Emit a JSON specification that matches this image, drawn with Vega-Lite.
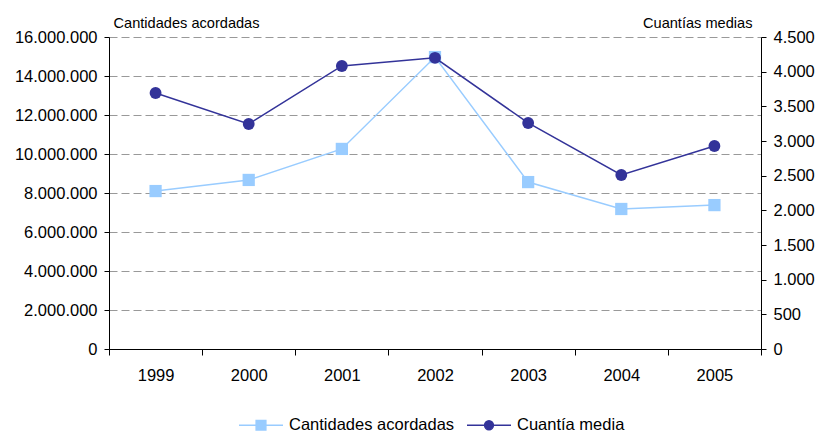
{
  "$schema": "https://vega.github.io/schema/vega-lite/v6.json",
  "autosize": {"type": "none"},
  "padding": {"left": 109, "top": 37, "right": 59, "bottom": 84},
  "width": 652,
  "height": 312,
  "background": "white",
  "config": {
    "view": {"stroke": null},
    "font": "Liberation Sans",
    "locale": {"number": {"decimal": ",", "thousands": ".", "grouping": [3], "currency": ["", " €"]}},
    "axis": {
      "labelFont": "Liberation Sans",
      "labelFontSize": 16.5,
      "labelColor": "#000000",
      "domainColor": "#000000",
      "tickColor": "#000000",
      "titleFont": "Liberation Sans",
      "titleFontWeight": "normal",
      "titleColor": "#000000"
    }
  },
  "data": {
    "values": [
      {"year": "1999", "cantidad": 8100000, "cuantia": 3692},
      {"year": "2000", "cantidad": 8670000, "cuantia": 3245},
      {"year": "2001", "cantidad": 10260000, "cuantia": 4082},
      {"year": "2002", "cantidad": 14970000, "cuantia": 4200},
      {"year": "2003", "cantidad": 8560000, "cuantia": 3260},
      {"year": "2004", "cantidad": 7180000, "cuantia": 2510},
      {"year": "2005", "cantidad": 7380000, "cuantia": 2928}
    ]
  },
  "encoding": {
    "x": {
      "field": "year",
      "type": "ordinal",
      "scale": {"type": "band", "paddingInner": 0, "paddingOuter": 0},
      "axis": {
        "title": null,
        "labelAngle": 0,
        "tickBand": "extent",
        "tickSize": 6,
        "labelPadding": 12,
        "domainWidth": 1,
        "grid": false
      }
    }
  },
  "layer": [
    {
      "encoding": {
        "y": {
          "field": "cantidad",
          "type": "quantitative",
          "scale": {"domain": [0, 16000000], "nice": false},
          "axis": {
            "orient": "left",
            "values": [0, 2000000, 4000000, 6000000, 8000000, 10000000, 12000000, 14000000, 16000000],
            "format": ",.0f",
            "tickSize": 5,
            "labelPadding": 7,
            "grid": true,
            "gridColor": "#999999",
            "gridDash": [8, 4],
            "gridWidth": 1,
            "title": "Cantidades acordadas",
            "titleAngle": 0,
            "titleAlign": "left",
            "titleBaseline": "alphabetic",
            "titleX": 4,
            "titleY": -10,
            "titleFontSize": 14.6
          }
        }
      },
      "layer": [
        {
          "mark": {"type": "line", "color": "#99CCFF", "strokeWidth": 1.5},
          "encoding": {
            "color": {
              "datum": "Cantidades acordadas",
              "scale": {"domain": ["Cantidades acordadas", "Cuantía media"], "range": ["#99CCFF", "#333399"]},
              "legend": {
                "title": null,
                "orient": "none",
                "direction": "horizontal",
                "legendX": 129,
                "legendY": 365,
                "symbolSize": 1936,
                "labelFontSize": 16.5,
                "labelFont": "Liberation Sans",
                "labelColor": "#000000",
                "labelLimit": 400,
                "labelOffset": 5,
                "columnPadding": 9,
                "padding": 0,
                "encode": {
                  "symbols": {
                    "update": {
                      "shape": {"signal": "datum.value === 'Cantidades acordadas' ? 'M-1,0H1M-0.22,-0.22H0.22V0.22H-0.22Z' : 'M-1,0H1M-0.2,0A0.2,0.2,0,1,1,0.2,0A0.2,0.2,0,1,1,-0.2,0Z'"},
                      "fill": {"signal": "datum.value === 'Cantidades acordadas' ? '#99CCFF' : '#333399'"},
                      "stroke": {"signal": "datum.value === 'Cantidades acordadas' ? '#99CCFF' : '#333399'"},
                      "strokeWidth": {"value": 1.5},
                      "opacity": {"value": 1},
                      "fillOpacity": {"value": 1}
                    }
                  }
                }
              }
            }
          }
        },
        {
          "mark": {"type": "point", "shape": "square", "filled": true, "color": "#99CCFF", "size": 150, "opacity": 1}
        }
      ]
    },
    {
      "encoding": {
        "y": {
          "field": "cuantia",
          "type": "quantitative",
          "scale": {"domain": [0, 4500], "nice": false},
          "axis": {
            "orient": "right",
            "values": [0, 500, 1000, 1500, 2000, 2500, 3000, 3500, 4000, 4500],
            "format": ",.0f",
            "tickSize": 5,
            "labelPadding": 7,
            "grid": false,
            "title": "Cuantías medias",
            "titleAngle": 0,
            "titleAlign": "right",
            "titleBaseline": "alphabetic",
            "titleX": -9,
            "titleY": -10,
            "titleFontSize": 14.6
          }
        }
      },
      "layer": [
        {
          "mark": {"type": "line", "color": "#333399", "strokeWidth": 1.5},
          "encoding": {
            "color": {"datum": "Cuantía media"}
          }
        },
        {
          "mark": {"type": "point", "shape": "circle", "filled": true, "color": "#333399", "size": 140, "opacity": 1}
        }
      ]
    }
  ],
  "resolve": {"scale": {"y": "independent"}}
}
